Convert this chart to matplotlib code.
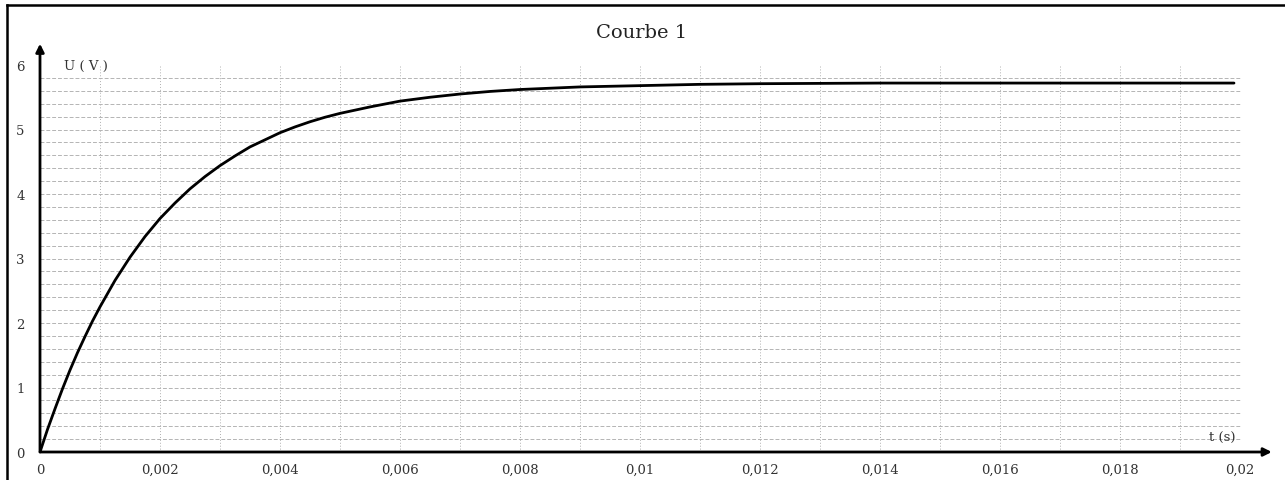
import numpy as np
import matplotlib
matplotlib.use("Agg")
import matplotlib.pyplot as plt
from matplotlib.lines import Line2D

# valeurs (charge du condensateur)
t = [0, 0.000125, 0.00025, 0.000375, 0.0005, 0.000625, 0.00075, 0.000875, 0.001,
     0.00125, 0.0015, 0.00175, 0.002, 0.00225, 0.0025, 0.00275, 0.003, 0.00325,
     0.0035, 0.00375, 0.004, 0.00425, 0.0045, 0.00475, 0.005, 0.0055, 0.006,
     0.0065, 0.007, 0.0075, 0.008, 0.0085, 0.009, 0.010, 0.011, 0.012, 0.014,
     0.016, 0.018, 0.0199]
U = [0, 0.35, 0.67, 0.98, 1.27, 1.54, 1.79, 2.03, 2.25,
     2.66, 3.02, 3.34, 3.62, 3.86, 4.08, 4.27, 4.44, 4.59,
     4.73, 4.84, 4.95, 5.04, 5.12, 5.19, 5.25, 5.35, 5.44,
     5.50, 5.55, 5.59, 5.62, 5.64, 5.66, 5.68, 5.70, 5.71, 5.72,
     5.72, 5.72, 5.72]

xticks = [0, 0.002, 0.004, 0.006, 0.008, 0.01, 0.012, 0.014, 0.016, 0.018, 0.02]
xlabels = ["0", "0,002", "0,004", "0,006", "0,008", "0,01", "0,012", "0,014", "0,016", "0,018", "0,02"]
yticks = [0, 1, 2, 3, 4, 5, 6]

plt.rcParams['font.family'] = ['DejaVu Serif']

W, H = 1285, 481
fig = plt.figure(figsize=(W / 100, H / 100), dpi=100)
x0, y0 = 40, 453
xmax, ymax = 0.0206, 6.35
ax = fig.add_axes([x0 / W, (H - y0) / H, xmax * 60000 / W, ymax * 64.5 / H])
ax.set_xlim(0, xmax)
ax.set_ylim(0, ymax)
for s in ax.spines.values():
    s.set_visible(False)

# grille
for v in np.arange(1, 20) * 0.001:
    ax.plot([v, v], [0, 6], color="#b0b0b0", lw=0.7, ls=(0, (1, 2)))
for h in np.arange(1, 30) * 0.2:
    ax.plot([0, 0.02], [h, h], color="#b4b4b4", lw=0.7, ls=(0, (4, 2)))

ax.plot(t, U, color="black", lw=2.0, solid_capstyle="round", solid_joinstyle="round")

# axes avec flèches
ax.annotate("", xy=(0.02053, 0), xytext=(0, 0), annotation_clip=False,
            arrowprops=dict(arrowstyle="-|>", lw=2, color="black", mutation_scale=12,
                            shrinkA=0, shrinkB=0))
ax.annotate("", xy=(0, 6.33), xytext=(0, 0), annotation_clip=False,
            arrowprops=dict(arrowstyle="-|>", lw=2, color="black", mutation_scale=12,
                            shrinkA=0, shrinkB=0))

ax.set_xticks(xticks)
ax.set_xticklabels(xlabels, fontsize=9.5, color="#333333")
ax.set_yticks(yticks)
ax.set_yticklabels([str(v) for v in yticks], fontsize=9.5, color="#333333")
ax.tick_params(axis="x", length=0, pad=8)
ax.tick_params(axis="y", length=0, pad=11)

ax.text(0.0004, 6.0, "U ( V )", fontsize=9.5, color="#333333", va="center")
ax.text(0.0197, 0.22, "t (s)", fontsize=9.5, color="#333333", va="center", ha="center")

fig.text(642 / W, 1 - 33 / H, "Courbe 1", fontsize=14, ha="center", va="center", color="#222222")

# cadre
fig.add_artist(Line2D([7 / W, 1], [1 - 6 / H, 1 - 6 / H], color="black", lw=1.8))
fig.add_artist(Line2D([7 / W, 7 / W], [0, 1 - 6 / H], color="black", lw=1.8))

fig.savefig("out.png", dpi=100)
